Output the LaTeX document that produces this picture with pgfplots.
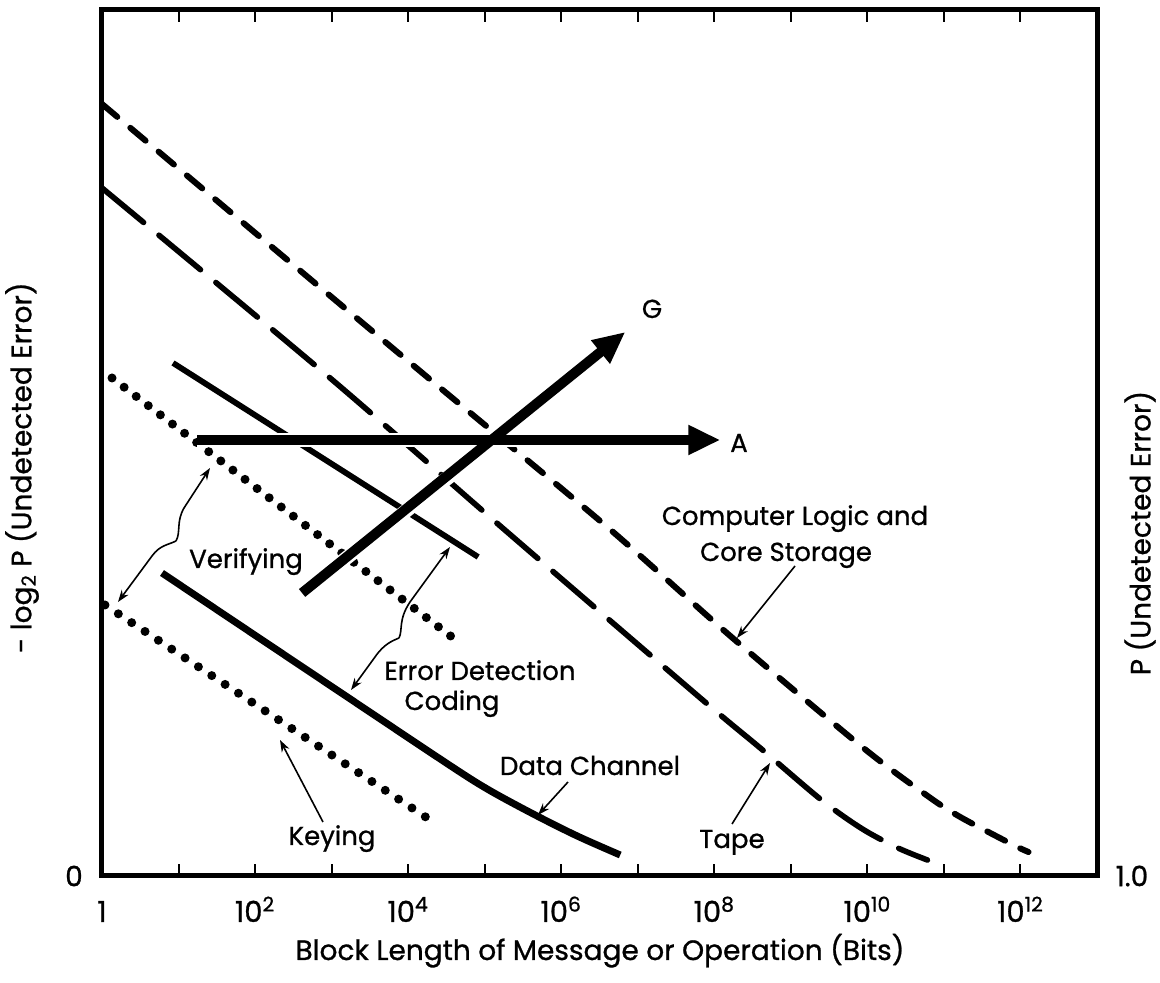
\documentclass[border=0pt]{standalone}
\usepackage{fontspec}
\setmainfont{Poppins}[FakeBold=0.9]
\usepackage{pgfplots}
\pgfplotsset{compat=1.18}
\usetikzlibrary{arrows.meta}
\begin{document}
\fontsize{13pt}{15pt}\selectfont
\begin{tikzpicture}[
  lbl/.style={font=\fontsize{13pt}{15pt}\selectfont, inner sep=0pt, anchor=base},
  big/.style={font=\fontsize{14pt}{16pt}\selectfont, inner sep=0pt, anchor=base},
  ann/.style={line width=0.8pt, -{Stealth[length=6pt,width=4.2pt]}},
]
\begin{axis}[
  at={(0,0)}, anchor=south west,
  scale only axis, width=497.5pt, height=433pt,
  xmode=log, xmin=1, xmax=1e13, ymin=0, ymax=866,
  axis line style={line width=2.5pt},
  xtick={1,10,100,1000,1e4,1e5,1e6,1e7,1e8,1e9,1e10,1e11,1e12,1e13},
  xticklabels={1,,10\textsuperscript{2},,10\textsuperscript{4},,10\textsuperscript{6},,10\textsuperscript{8},,10\textsuperscript{10},,10\textsuperscript{12},},
  xminorticks=false,
  ytick=\empty,
  major tick length=6pt,
  every tick/.style={black, line width=1pt},
  xticklabel style={anchor=base, yshift=-23pt, font=\fontsize{14.5pt}{16pt}\selectfont},
]
% Computer Logic and Core Storage
\addplot[line width=3pt, line cap=round, dash pattern=on 10pt off 8.5pt, smooth]
  coordinates {(1,772) (116.1,639) (1.770e4,499) (3.990e6,349) (1.618e8,240) (8.872e9,128) (6.668e10,78) (1.549e11,60) (3.802e11,44) (9.120e11,29) (1.274e12,24)};
% Tape
\addplot[line width=2.8pt, line cap=round, dash pattern=on 27pt off 10pt, smooth]
  coordinates {(1,688) (955,498) (1.596e5,350) (6.561e7,178) (3.981e8,128) (2.512e9,76) (8.610e9,47) (2.512e10,28) (6.081e10,16)};
% Error detection coding (upper)
\addplot[line width=2.9pt] coordinates {(8.472,513) (8.222e4,319)};
% Data channel
\addplot[line width=3.5pt, smooth]
  coordinates {(6.081,303) (398.1,210) (2.871e4,115) (1.079e5,87) (4.305e5,62) (1.618e6,40) (5.902e6,21)};
% Verifying (dotted)
\addplot[line width=4.5pt, line cap=round, dash pattern=on 0pt off 7.6pt] coordinates {(1.352,498) (3.873e4,238)};
% Keying (dotted)
\addplot[line width=4.5pt, line cap=round, dash pattern=on 0pt off 8pt] coordinates {(1.094,271) (1.770e4,58)};
% halos
\addplot[white, line width=7pt] coordinates {(17.46,436) (1.0e8,436)};
\addplot[white, line width=7pt] coordinates {(411.2,283) (5.0e6,530)};
% A and G arrows
\addplot[line width=5pt, -{Triangle[length=16pt,width=14pt]}] coordinates {(17.46,436) (1.197e8,436)};
\addplot[line width=5pt, -{Triangle[length=16pt,width=14pt]}] coordinates {(411.2,283) (6.871e6,544)};
\end{axis}
\begin{scope}[x=0.5pt,y=-0.5pt,shift={(-51pt,438pt)}]
  \node[lbl] at (652,318) {G};
  \node[lbl] at (739,452) {A};
  \node[lbl] at (795,525) {Computer Logic and};
  \node[lbl] at (786,561) {Core Storage};
  \node[lbl] at (246,568) {Verifying};
  \node[lbl] at (480,680) {Error Detection};
  \node[lbl] at (452,710) {Coding};
  \node[lbl] at (590,775) {Data Channel};
  \node[lbl] at (332,845) {Keying};
  \node[lbl] at (732,848) {Tape};
  % annotation arrows
  \draw[ann] (176,541) .. controls (181,532) and (176,522) .. (184,508) -- (210,468);
  \draw[ann] (176,541) .. controls (168,545) and (160,545) .. (152,556) -- (118,602);
  \draw[ann] (399,638) .. controls (403,630) and (398,620) .. (410,602) -- (450,547);
  \draw[ann] (399,638) .. controls (392,641) and (384,644) .. (375,657) -- (351,690);
  \draw[ann] (568,782) -- (538,815);
  \draw[ann] (323,822) -- (280,740);
  \draw[ann] (732,824) -- (770,763);
  \draw[ann] (795,566) -- (737,638);
  % axis texts
  \node[big, anchor=center] at (74,876) {0};
  \node[big, anchor=center] at (1132,876) {1.0};
  \node[big] at (600,960) {Block Length of Message or Operation (Bits)};
  \node[big, anchor=east, rotate=90] at (22,282) {- log\textsubscript{2} P (Undetected Error)};
  \node[big, anchor=center, rotate=90] at (1140,533) {P (Undetected Error)};
\end{scope}
\pgfresetboundingbox
\path[use as bounding box] (-51pt,-53.5pt) rectangle (529pt,438pt);
\end{tikzpicture}
\end{document}
